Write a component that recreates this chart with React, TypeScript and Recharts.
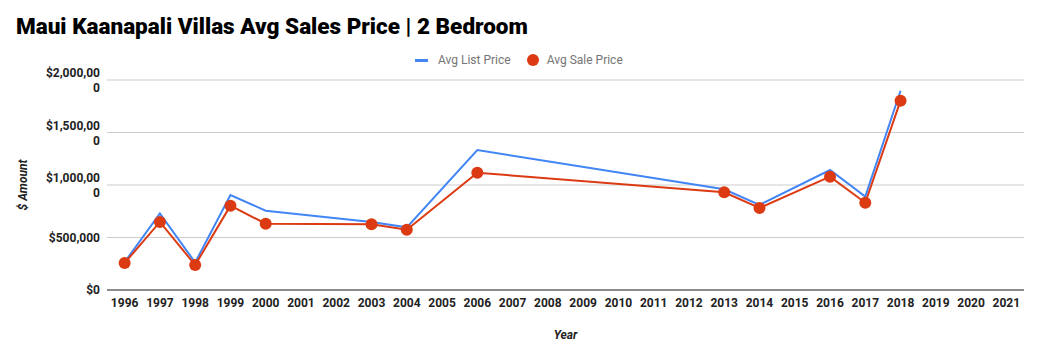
import { LineChart, Line, XAxis, YAxis, CartesianGrid } from "recharts";

const years = [1996, 1997, 1998, 1999, 2000, 2003, 2004, 2006, 2013, 2014, 2016, 2017, 2018];
const listPrice = [265000, 730000, 262000, 905000, 755000, 648000, 597000, 1333000, 959000, 810000, 1143000, 889000, 1898000];
const salePrice = [257000, 648000, 238000, 803000, 631000, 626000, 574000, 1117000, 930000, 781000, 1079000, 831000, 1803000];
const yearTicks = [
    1996, 1997, 1998, 1999, 2000, 2001, 2002, 2003, 2004, 2005, 2006, 2007, 2008,
    2009, 2010, 2011, 2012, 2013, 2014, 2015, 2016, 2017, 2018, 2019, 2020, 2021,
];
const priceTicks = [0, 500000, 1000000, 1500000, 2000000];

const data = years.map((year, i) => ({
    year,
    list: listPrice[i],
    sale: salePrice[i],
}));

const FONT = "Roboto, 'Noto Sans', sans-serif";
const BLUE = "#4285F4";
const RED = "#DB3A12";

function formatPrice(v: number) {
    return "$" + v.toLocaleString("en-US");
}

function PriceTick(props: any) {
    const { x, y, payload } = props;
    const label = formatPrice(payload.value);
    const lines = label.length > 9 ? [label.slice(0, 9), label.slice(9)] : [label];
    const startY = lines.length > 1 ? y - 3 : y + 4;
    return (
        <text
            x={x}
            y={startY}
            textAnchor="end"
            fontFamily={FONT}
            fontSize={12}
            fontWeight={700}
            fill="#222"
        >
            {lines.map((l, i) => (
                <tspan key={i} x={x} dy={i === 0 ? 0 : 15}>
                    {l}
                </tspan>
            ))}
        </text>
    );
}

export default function App() {
    return (
        <div
            style={{
                position: "absolute",
                left: 0,
                top: 0,
                width: 1041,
                height: 357,
                background: "#fff",
                fontFamily: FONT,
            }}
        >
            <div
                style={{
                    position: "absolute",
                    left: 16,
                    top: 13,
                    fontSize: 22.5,
                    fontWeight: 900,
                    color: "#000",
                    whiteSpace: "nowrap",
                }}
            >
                Maui Kaanapali Villas Avg Sales Price | 2 Bedroom
            </div>

            <div
                style={{
                    position: "absolute",
                    left: 415,
                    top: 53,
                    display: "flex",
                    alignItems: "center",
                    fontSize: 12,
                    color: "#757575",
                    whiteSpace: "nowrap",
                }}
            >
                <span style={{ display: "inline-block", width: 13, height: 3, background: BLUE, marginRight: 10 }} />
                <span style={{ marginRight: 16 }}>Avg List Price</span>
                <span
                    style={{
                        display: "inline-block",
                        width: 12,
                        height: 12,
                        borderRadius: 6,
                        background: RED,
                        marginRight: 8,
                    }}
                />
                <span>Avg Sale Price</span>
            </div>

            <LineChart
                width={1041}
                height={357}
                data={data}
                margin={{ top: 80, right: 17, bottom: 0, left: 0 }}
            >
                <CartesianGrid vertical={false} stroke="#cccccc" />
                <XAxis
                    dataKey="year"
                    type="number"
                    domain={[1995.5, 2021.5]}
                    ticks={yearTicks}
                    interval={0}
                    tickLine={false}
                    axisLine={{ stroke: "#333", strokeWidth: 1 }}
                    height={67}
                    tick={{ fontFamily: FONT, fontSize: 12, fontWeight: 700, fill: "#222" }}
                    tickMargin={2}
                    label={{
                        value: "Year",
                        position: "insideBottom",
                        offset: 18,
                        fontFamily: FONT,
                        fontSize: 12,
                        fontWeight: 700,
                        fontStyle: "italic",
                        fill: "#222",
                    }}
                />
                <YAxis
                    type="number"
                    domain={[0, 2000000]}
                    ticks={priceTicks}
                    width={107}
                    tickLine={false}
                    axisLine={false}
                    tick={<PriceTick />}
                    tickMargin={1}
                    label={{
                        value: "$ Amount",
                        angle: -90,
                        position: "insideLeft",
                        offset: 23,
                        fontFamily: FONT,
                        fontSize: 12,
                        fontWeight: 700,
                        fontStyle: "italic",
                        fill: "#222",
                        style: { textAnchor: "middle" },
                    }}
                />
                <Line
                    type="linear"
                    dataKey="list"
                    stroke={BLUE}
                    strokeWidth={2}
                    dot={false}
                    activeDot={false}
                    isAnimationActive={false}
                />
                <Line
                    type="linear"
                    dataKey="sale"
                    stroke={RED}
                    strokeWidth={2}
                    dot={{ r: 6, fill: RED, stroke: RED, strokeWidth: 0 }}
                    activeDot={false}
                    isAnimationActive={false}
                />
            </LineChart>
        </div>
    );
}
